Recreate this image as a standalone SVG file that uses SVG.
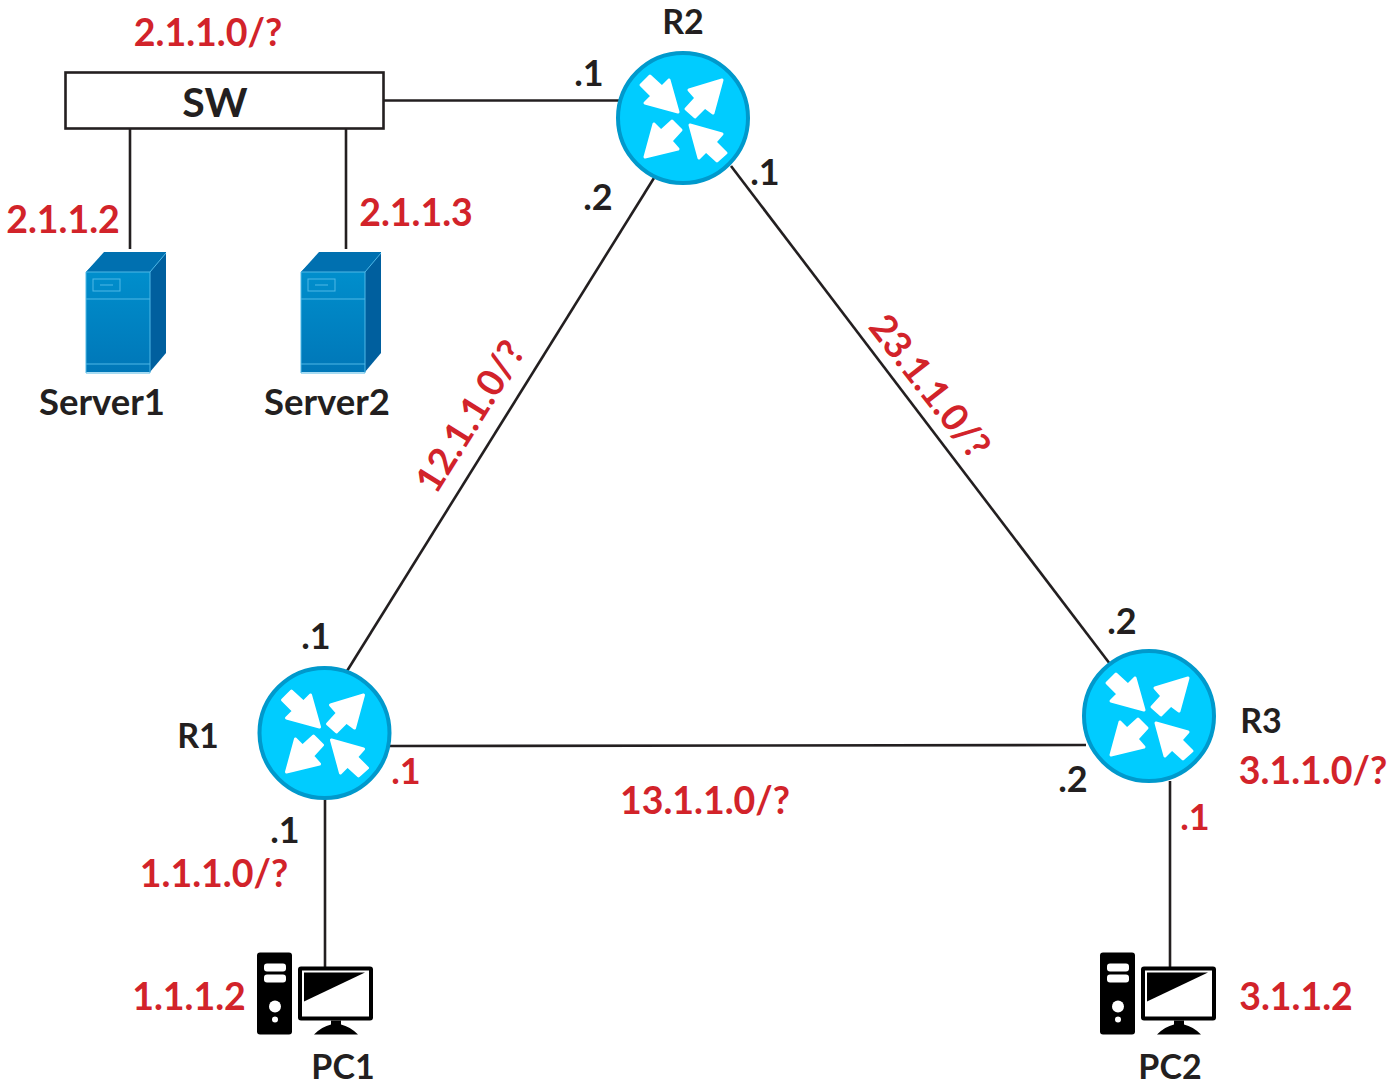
<svg xmlns="http://www.w3.org/2000/svg" width="1399" height="1087" viewBox="0 0 1399 1087">
<style>
text{font-family:"Lato","Carlito","Liberation Sans",sans-serif;font-weight:700;font-size:36px}
.k{fill:#231f20}.r{fill:#d2232a}
.a{font-size:37.500px}
.n{font-size:34px}
.s{font-size:36.500px}
.l{stroke:#231f20;stroke-width:2.600;fill:none}
</style>
<defs>
<linearGradient id="sf" x1="0" y1="0" x2="0" y2="1"><stop offset="0" stop-color="#0093d0"/><stop offset="1" stop-color="#0077b8"/></linearGradient>
<g id="router">
<circle r="65" fill="#00ccff" stroke="#0099cc" stroke-width="4"/>
<g fill="#fff" stroke="#fff" stroke-width="3" stroke-linejoin="round">
<path d="M-5-6-14-38-21-31-33-42-42-33-31-22-38-15Z"/>
<path d="M39-38 6-28 13-20 3-9 12-1 22-11 30-5Z"/>
<path d="M-38 39-29 6-22 13-11 3-2 12-12 23-5 31Z"/>
<path d="M7 7 39 16 32 24 43 35 34 43 23 33 16 40Z"/>
</g>
</g>
<g id="server">
<path d="M0 20 20 0H80V90L64 120H0Z" fill="url(#sf)"/>
<path d="M0 20 18 0H80L64 20Z" fill="#0070b0"/>
<path d="M64 20 80 0V101L64 120Z" fill="#005f9e"/>
<g fill="none" stroke="#4fb8e6" stroke-width="1">
<path d="M0 20H64V121H0Z"/><path d="M0 47H64M0 112H64M64 20 80 1"/>
<rect x="7" y="27" width="27" height="12"/><path d="M14 33H27"/>
</g>
</g>
<g id="pc">
<rect x="0" y="0" width="35" height="82" rx="3" fill="#000"/>
<rect x="7" y="11" width="22" height="8" rx="3" fill="#fff"/>
<rect x="7" y="22" width="22" height="8" rx="3" fill="#fff"/>
<circle cx="18" cy="54" r="6" fill="#fff"/><circle cx="18" cy="67" r="3" fill="#fff"/>
<rect x="41" y="14" width="75" height="54" rx="3" fill="#000"/>
<rect x="45" y="18" width="67" height="46" fill="#fff"/>
<path d="M47 20H108L47 49Z" fill="#000"/>
<path d="M57 82Q65 74 74 72V68H84V72Q93 74 101 82Z" fill="#000"/>
</g>
</defs>
<g id="connectors">
<path class="l" d="M384 100.500H620"/>
<path class="l" d="M130 128V249"/>
<path class="l" d="M346 128V249"/>
<path class="l" d="M654 178 347 671"/>
<path class="l" d="M731 166 1110 664"/>
<path class="l" d="M390 746 1086 745"/>
<path class="l" d="M325 798V967"/>
<path class="l" d="M1170 781V967"/>
</g>
<g id="SW"><rect x="65.500" y="72.500" width="318" height="56" fill="#fff" stroke="#231f20" stroke-width="2.600"/><text class="k" x="215" y="117" text-anchor="middle" style="font-size:41px">SW</text></g>
<g id="R2"><use href="#router" x="683" y="118"/><text class="k n" x="683" y="34" text-anchor="middle">R2</text></g>
<g id="R1"><use href="#router" x="324.500" y="733"/><text class="k n" x="198" y="748" text-anchor="middle">R1</text></g>
<g id="R3"><use href="#router" x="1149" y="716"/><text class="k n" x="1261" y="733" text-anchor="middle">R3</text></g>
<g id="Server1"><use href="#server" x="86" y="252"/><text class="k s" x="102" y="415" text-anchor="middle">Server1</text></g>
<g id="Server2"><use href="#server" x="301" y="252"/><text class="k s" x="327" y="415" text-anchor="middle">Server2</text></g>
<g id="PC1"><use href="#pc" x="257" y="952.500"/><text class="k n" x="343" y="1079" text-anchor="middle">PC1</text></g>
<g id="PC2"><use href="#pc" x="1100" y="952.500"/><text class="k n" x="1170" y="1079" text-anchor="middle">PC2</text></g>
<g id="labels">
<text class="r a" x="208" y="46" text-anchor="middle">2.1.1.0/?</text>
<text class="r a" x="63" y="233" text-anchor="middle">2.1.1.2</text>
<text class="r a" x="416" y="226" text-anchor="middle">2.1.1.3</text>
<text class="r a" transform="translate(471 417) rotate(-58)" text-anchor="middle" y="12">12.1.1.0/?</text>
<text class="r a" transform="translate(929 387) rotate(52)" text-anchor="middle" y="12">23.1.1.0/?</text>
<text class="r a" x="705" y="814" text-anchor="middle">13.1.1.0/?</text>
<text class="r a" x="1313" y="784" text-anchor="middle">3.1.1.0/?</text>
<text class="r a" x="214" y="887" text-anchor="middle">1.1.1.0/?</text>
<text class="r a" x="189" y="1010" text-anchor="middle">1.1.1.2</text>
<text class="r a" x="1296" y="1010" text-anchor="middle">3.1.1.2</text>
<text class="r" x="406" y="784" text-anchor="middle">.1</text>
<text class="r" x="1195" y="830" text-anchor="middle">.1</text>
<text class="k" x="589" y="86" text-anchor="middle">.1</text>
<text class="k" x="765" y="185" text-anchor="middle">.1</text>
<text class="k" x="598" y="210" text-anchor="middle">.2</text>
<text class="k" x="316" y="649" text-anchor="middle">.1</text>
<text class="k" x="1122" y="634" text-anchor="middle">.2</text>
<text class="k" x="1073" y="792" text-anchor="middle">.2</text>
<text class="k" x="285" y="843" text-anchor="middle">.1</text>
</g>
</svg>
